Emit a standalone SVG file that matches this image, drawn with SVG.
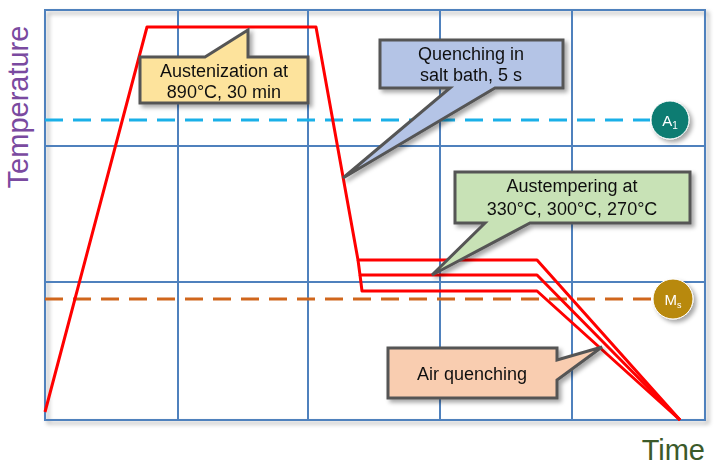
<svg xmlns="http://www.w3.org/2000/svg" width="723" height="474" viewBox="0 0 723 474">
<defs>
<style>
.g{stroke:#4f81bd;stroke-width:2;fill:none}
.c{stroke:#ff0000;stroke-width:3;fill:none;stroke-linejoin:round}
.t{font-family:"Liberation Sans",Arial,sans-serif;font-size:18px;fill:#111;text-anchor:middle}
.b{stroke:#555;stroke-width:3}
</style>
<filter id="sh" x="-10%" y="-10%" width="130%" height="140%"><feDropShadow dx="3" dy="3" stdDeviation="2" flood-opacity="0.35"/></filter>
</defs>
<rect width="723" height="474" fill="#fff"/>
<g id="grid">
<rect x="45" y="10" width="660" height="410" class="g" filter="url(#sh)"/>
<path class="g" d="M178 10V420M308 10V420M440 10V420M572 10V420M45 146H705M45 282H705"/>
</g>
<g id="lines">
<path d="M45 120H650" stroke="#1ab0e8" stroke-width="3" stroke-dasharray="18 10"/>
<path d="M45 299H652" stroke="#d0661c" stroke-width="3" stroke-dasharray="18 10"/>
</g>
<g id="connectors">
<path class="c" d="M45 412L147 27H316L358 260H537L680 420"/>
<path class="c" d="M358 260L360 275H537L680 420"/>
<path class="c" d="M360 275L362 291H537L680 420"/>
</g>
<g id="austenization" filter="url(#sh)">
<path d="M140 57H205L248 30V57H308V103H140Z" fill="#fde39c" class="b"/>
<text class="t" x="224" y="77">Austenization at</text>
<text class="t" x="224" y="98">890°C, 30 min</text>
</g>
<g id="quenching" filter="url(#sh)">
<path d="M380 40H563V88H495L343 178L450 88H380Z" fill="#b4c4e6" class="b"/>
<text class="t" x="471" y="60">Quenching in</text>
<text class="t" x="471" y="81">salt bath, 5 s</text>
</g>
<g id="austempering" filter="url(#sh)">
<path d="M455 172H690V223H530L432 275L485 223H455Z" fill="#c8e2b6" class="b"/>
<text class="t" x="572" y="192">Austempering at</text>
<text class="t" x="572" y="215">330°C, 300°C, 270°C</text>
</g>
<g id="air" filter="url(#sh)">
<path d="M388 348H557V360L602 347L557 380V398H388Z" fill="#f9cdb0" class="b"/>
<text class="t" x="472" y="380">Air quenching</text>
</g>
<g id="A1" filter="url(#sh)">
<circle cx="670" cy="120" r="19" fill="#0b7b72" stroke="#fff" stroke-width="1"/>
<text x="670" y="126" font-family="Liberation Sans,sans-serif" font-size="15" fill="#fff" text-anchor="middle">A<tspan font-size="10" dy="3">1</tspan></text>
</g>
<g id="Ms" filter="url(#sh)">
<circle cx="673" cy="299" r="20" fill="#b8890f" stroke="#fff" stroke-width="1"/>
<text x="673" y="305" font-family="Liberation Sans,sans-serif" font-size="15" fill="#fff" text-anchor="middle">M<tspan font-size="9" dy="3">s</tspan></text>
</g>
<text x="0" y="0" transform="translate(28 107) rotate(-90)" font-family="Liberation Sans,sans-serif" font-size="29" fill="#7a4aa0" text-anchor="middle">Temperature</text>
<text x="705" y="460" font-family="Liberation Sans,sans-serif" font-size="29" fill="#3b5a2a" text-anchor="end">Time</text>
</svg>
